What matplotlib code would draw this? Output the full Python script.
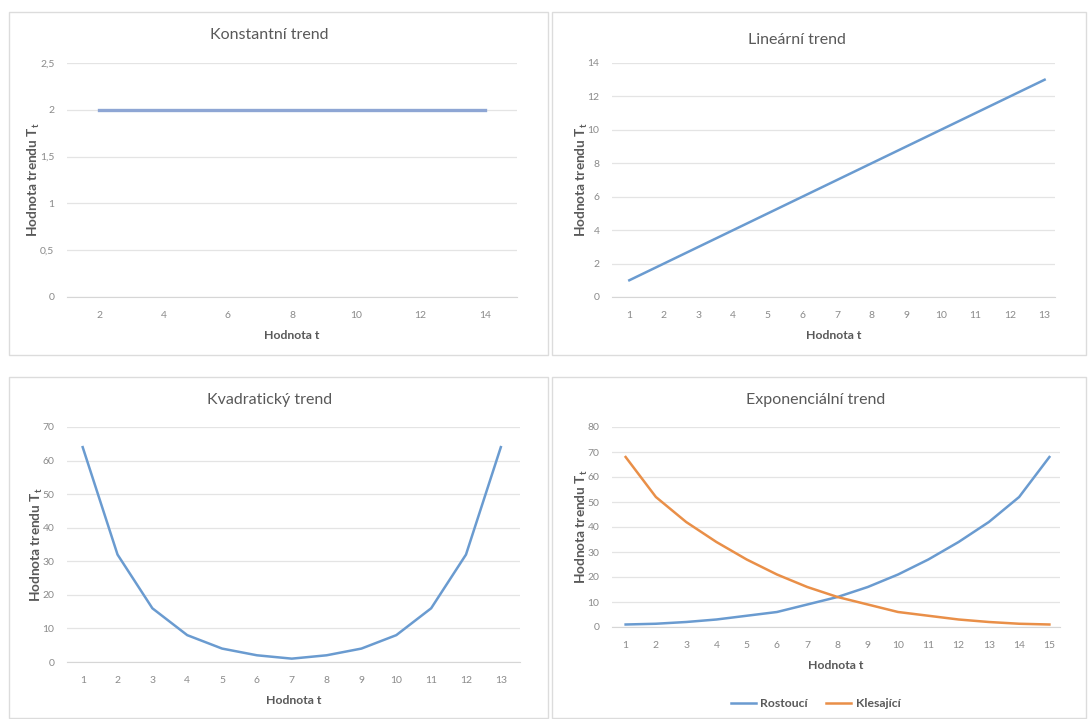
import matplotlib
matplotlib.use('Agg')
import matplotlib.pyplot as plt
from matplotlib.patches import Rectangle

plt.rcParams['font.family'] = ['Lato', 'DejaVu Sans']

# data
t_const = [2, 4, 6, 8, 10, 12, 14]
T_const = [2, 2, 2, 2, 2, 2, 2]

t_lin = [1, 2, 3, 4, 5, 6, 7, 8, 9, 10, 11, 12, 13]
T_lin = [1, 2, 3, 4, 5, 6, 7, 8, 9, 10, 11, 12, 13]

t_quad = [1, 2, 3, 4, 5, 6, 7, 8, 9, 10, 11, 12, 13]
T_quad = [64, 32, 16, 8, 4, 2, 1, 2, 4, 8, 16, 32, 64]

t_exp = [1, 2, 3, 4, 5, 6, 7, 8, 9, 10, 11, 12, 13, 14, 15]
T_rost = [1, 1.3, 2, 3, 4.5, 6, 9, 12, 16, 21, 27, 34, 42, 52, 68]
T_kles = [68, 52, 42, 34, 27, 21, 16, 12, 9, 6, 4.5, 3, 2, 1.3, 1]

BLUE = '#6a9bd0'
ORANGE = '#e98f48'
GRID = '#e4e4e4'
TICK = '#8a8a8a'
LABEL = '#595959'
W, H = 1089, 719

fig = plt.figure(figsize=(W / 100, H / 100), dpi=100)


def px_axes(x0, y0, x1, y1):
    return fig.add_axes([x0 / W, 1 - y1 / H, (x1 - x0) / W, (y1 - y0) / H])


# panel frames
for (x0, y0, x1, y1) in [(9, 12, 548, 355), (552, 12, 1086, 355),
                         (9, 377, 548, 718), (552, 377, 1086, 718)]:
    fig.patches.append(Rectangle((x0 / W, 1 - y1 / H), (x1 - x0) / W, (y1 - y0) / H,
                                 transform=fig.transFigure, fill=False,
                                 edgecolor='#dcdcdc', linewidth=1))


def style(ax, title, title_xy, ylim, yticks, ylabels, xlim, xticks):
    ax.set_xlim(*xlim)
    ax.set_ylim(*ylim)
    ax.set_yticks(yticks)
    ax.set_yticklabels(ylabels)
    ax.set_xticks(xticks)
    ax.set_xticklabels([str(v) for v in xticks])
    ax.grid(axis='y', color=GRID, linewidth=0.9)
    ax.set_axisbelow(True)
    for s in ['top', 'right', 'left']:
        ax.spines[s].set_visible(False)
    ax.spines['bottom'].set_color('#d6d6d6')
    ax.tick_params(axis='both', length=0, colors=TICK, labelsize=7.5)
    ax.tick_params(axis='x', pad=10)
    ax.tick_params(axis='y', pad=9)
    fig.text(title_xy[0] / W, 1 - title_xy[1] / H, title, fontsize=11.5,
             color=LABEL, ha='center', va='center')
    ax.set_xlabel('Hodnota t', fontsize=8.8, color=LABEL, fontweight='bold', labelpad=7)
    ax.set_ylabel(r'Hodnota trendu T$_\mathregular{t}$', fontsize=9.8, color=LABEL,
                  fontweight='bold', labelpad=-1.5)


# Konstantni trend
ax1 = px_axes(67, 63, 517, 297)
ax1.plot(t_const, T_const, color='#8ea6d4', linewidth=2.4)
style(ax1, 'Konstantní trend', (269, 35), (0, 2.5), [0, 0.5, 1, 1.5, 2, 2.5],
      ['0', '0,5', '1', '1,5', '2', '2,5'], (1, 15), t_const)

# Linearni trend
ax2 = px_axes(612, 63, 1055, 297)
ax2.plot(t_lin, T_lin, color=BLUE, linewidth=1.8)
style(ax2, 'Lineární trend', (797, 40), (0, 14), list(range(0, 15, 2)),
      [str(v) for v in range(0, 15, 2)], (0.5, 13.3), t_lin)

# Kvadraticky trend
ax3 = px_axes(67, 427, 520, 662)
ax3.plot(t_quad, T_quad, color=BLUE, linewidth=1.8)
style(ax3, 'Kvadratický trend', (270, 400), (0, 70), list(range(0, 71, 10)),
      [str(v) for v in range(0, 71, 10)], (0.55, 13.55), t_quad)

# Exponencialni trend
ax4 = px_axes(612, 427, 1060, 627)
ax4.plot(t_exp, T_rost, color=BLUE, linewidth=1.8, label='Rostoucí')
ax4.plot(t_exp, T_kles, color=ORANGE, linewidth=1.8, label='Klesající')
style(ax4, 'Exponenciální trend', (816, 400), (0, 80), list(range(0, 81, 10)),
      [str(v) for v in range(0, 81, 10)], (0.55, 15.35), t_exp)
leg = ax4.legend(loc='upper center', bbox_to_anchor=(0.455, -0.3), ncol=2,
                 frameon=False, fontsize=8.8, handlelength=2.0, columnspacing=1.5,
                 handletextpad=0.4)
for txt in leg.get_texts():
    txt.set_color(LABEL)
    txt.set_fontweight('bold')

fig.savefig('out.png', dpi=100, facecolor='white')
